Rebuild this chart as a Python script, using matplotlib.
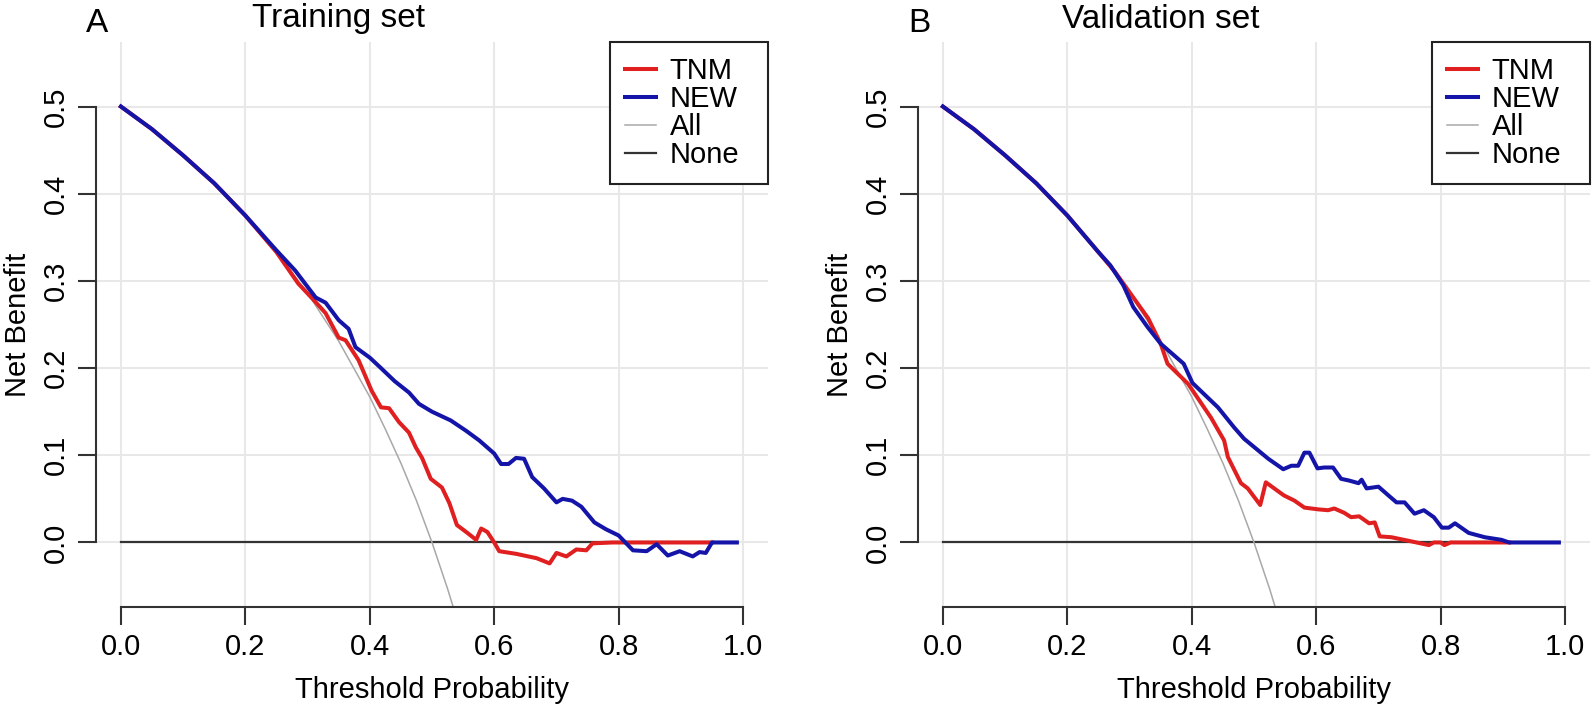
import matplotlib.pyplot as plt

plt.rcParams['font.family'] = ['Liberation Sans', 'DejaVu Sans']

# Training set (panel A)
train_new_x = [0, 0.05, 0.1, 0.15, 0.2, 0.25, 0.28, 0.313, 0.329, 0.35, 0.366, 0.377, 0.4, 0.418,
               0.44, 0.463, 0.479, 0.5, 0.53, 0.555, 0.576, 0.6, 0.611, 0.623, 0.635, 0.648, 0.661,
               0.68, 0.70, 0.71, 0.725, 0.74, 0.761, 0.78, 0.80, 0.823, 0.845, 0.861, 0.879, 0.898,
               0.919, 0.93, 0.94, 0.95, 0.99]
train_new_y = [0.5, 0.474, 0.444, 0.412, 0.375, 0.335, 0.312, 0.281, 0.275, 0.255, 0.245, 0.224, 0.212,
               0.2, 0.185, 0.172, 0.159, 0.15, 0.14, 0.128, 0.117, 0.102, 0.09, 0.09, 0.097, 0.096,
               0.075, 0.062, 0.046, 0.05, 0.048, 0.041, 0.023, 0.015, 0.008, -0.009, -0.01, -0.002,
               -0.015, -0.01, -0.016, -0.011, -0.012, 0, 0]
train_tnm_x = [0, 0.05, 0.1, 0.15, 0.2, 0.25, 0.285, 0.31, 0.329, 0.35, 0.361, 0.382, 0.403, 0.418,
               0.431, 0.447, 0.463, 0.474, 0.484, 0.498, 0.516, 0.528, 0.54, 0.555, 0.571, 0.579,
               0.589, 0.6, 0.608, 0.635, 0.668, 0.689, 0.70, 0.716, 0.732, 0.748, 0.758, 0.79, 0.95]
train_tnm_y = [0.5, 0.474, 0.444, 0.412, 0.375, 0.333, 0.297, 0.278, 0.263, 0.235, 0.232, 0.209, 0.174,
               0.155, 0.154, 0.138, 0.126, 0.109, 0.097, 0.073, 0.063, 0.045, 0.02, 0.012, 0.003,
               0.016, 0.012, 0.0, -0.01, -0.013, -0.018, -0.024, -0.012, -0.016, -0.008, -0.009,
               -0.001, 0, 0]

# Validation set (panel B)
valid_new_x = [0, 0.05, 0.1, 0.15, 0.2, 0.25, 0.269, 0.29, 0.306, 0.329, 0.35, 0.387, 0.401, 0.42,
               0.442, 0.468, 0.484, 0.523, 0.547, 0.56, 0.571, 0.581, 0.589, 0.602, 0.613, 0.627,
               0.64, 0.653, 0.668, 0.673, 0.681, 0.7, 0.716, 0.729, 0.742, 0.758, 0.773, 0.789,
               0.802, 0.813, 0.823, 0.845, 0.871, 0.898, 0.91, 0.99]
valid_new_y = [0.5, 0.474, 0.444, 0.412, 0.375, 0.333, 0.318, 0.295, 0.27, 0.247, 0.228, 0.205, 0.183,
               0.17, 0.155, 0.132, 0.119, 0.096, 0.084, 0.088, 0.088, 0.103, 0.103, 0.085, 0.086,
               0.086, 0.073, 0.071, 0.068, 0.072, 0.062, 0.064, 0.054, 0.046, 0.046, 0.033, 0.037,
               0.029, 0.017, 0.017, 0.022, 0.011, 0.006, 0.003, 0, 0]
valid_tnm_x = [0, 0.05, 0.1, 0.15, 0.2, 0.25, 0.277, 0.3, 0.33, 0.35, 0.361, 0.394, 0.431, 0.452,
               0.458, 0.479, 0.49, 0.51, 0.519, 0.548, 0.565, 0.581, 0.603, 0.619, 0.629, 0.645,
               0.656, 0.669, 0.685, 0.694, 0.702, 0.721, 0.748, 0.781, 0.789, 0.8, 0.806, 0.816, 0.91]
valid_tnm_y = [0.5, 0.474, 0.444, 0.412, 0.375, 0.333, 0.31, 0.287, 0.257, 0.228, 0.205, 0.182, 0.143,
               0.117, 0.098, 0.068, 0.062, 0.043, 0.069, 0.054, 0.048, 0.04, 0.038, 0.037, 0.039,
               0.034, 0.029, 0.03, 0.022, 0.023, 0.007, 0.006, 0.002, -0.003, 0, 0, -0.003, 0, 0]

# treat-all and treat-none references (same in both panels)
all_x = [0, 0.05, 0.1, 0.15, 0.2, 0.25, 0.3, 0.35, 0.4, 0.425, 0.45, 0.475, 0.5, 0.525, 0.55]
all_y = [0.5, 0.474, 0.444, 0.412, 0.375, 0.333, 0.286, 0.231, 0.167, 0.130, 0.091, 0.048, 0.0,
         -0.053, -0.111]
none_x = [0, 0.99]
none_y = [0, 0]

panels = [
    ('A', 'Training set', train_tnm_x, train_tnm_y, train_new_x, train_new_y),
    ('B', 'Validation set', valid_tnm_x, valid_tnm_y, valid_new_x, valid_new_y),
]

W, H = 1594, 710
top, bottom = 42, 607
fig = plt.figure(figsize=(W / 100, H / 100), dpi=100)

axes_left = [96, 918]
for (letter, title, tx, ty, nx, ny), left in zip(panels, axes_left):
    ax = fig.add_axes([left / W, (H - bottom) / H, 672 / W, (bottom - top) / H])
    ax.set_xlim(-0.04, 1.04)
    ax.set_ylim(-0.074, 0.574)
    ax.set_xticks([0, 0.2, 0.4, 0.6, 0.8, 1.0])
    ax.set_yticks([0, 0.1, 0.2, 0.3, 0.4, 0.5])
    ax.set_xticklabels(['0.0', '0.2', '0.4', '0.6', '0.8', '1.0'])
    ax.set_yticklabels(['0.0', '0.1', '0.2', '0.3', '0.4', '0.5'], rotation=90, va='center')
    ax.grid(True, color='#e8e8e8', lw=1.5)
    ax.set_axisbelow(True)
    for s in ['top', 'right']:
        ax.spines[s].set_visible(False)
    ax.spines['left'].set_bounds(0, 0.5)
    ax.spines['bottom'].set_bounds(0, 1.0)
    for s in ['left', 'bottom']:
        ax.spines[s].set_color('#333333')
        ax.spines[s].set_linewidth(1.5)
    ax.tick_params(direction='out', length=13, width=1.5, color='#333333',
                   labelsize=21, pad=6)

    ax.plot(none_x, none_y, color='#333333', lw=1.6, label='None', zorder=2)
    ax.plot(all_x, all_y, color='#a8a8a8', lw=1.1, label='All', zorder=2)
    ax.plot(tx, ty, color='#e02020', lw=2.9, label='TNM', zorder=3)
    ax.plot(nx, ny, color='#1414a8', lw=2.9, label='NEW', zorder=4)

    h, l = ax.get_legend_handles_labels()
    order = [2, 3, 1, 0]
    leg = fig.legend([h[i] for i in order], [l[i] for i in order],
                     loc='upper left',
                     bbox_to_anchor=((left + 514) / W, 1 - 182 / H, 158 / W, 140 / H),
                     mode='expand', fontsize=21, frameon=True, fancybox=False,
                     edgecolor='#222222', framealpha=1, borderaxespad=0,
                     handlelength=1.05, handletextpad=0.48, labelspacing=0.0,
                     borderpad=0.52)
    leg.get_frame().set_linewidth(1.5)

    fig.text((left + 243) / W, 1 - 19 / H, title, fontsize=24, ha='center', va='center')
    fig.text((left + 1) / W, 1 - 24 / H, letter, fontsize=24, ha='center', va='center')
    fig.text((left + 336) / W, 1 - 690 / H, 'Threshold Probability', fontsize=21,
             ha='center', va='center')
    fig.text((left - 78) / W, 1 - (top + bottom) / 2 / H, 'Net Benefit', fontsize=21,
             rotation=90, ha='center', va='center')

fig.savefig('out.png', dpi=100)
